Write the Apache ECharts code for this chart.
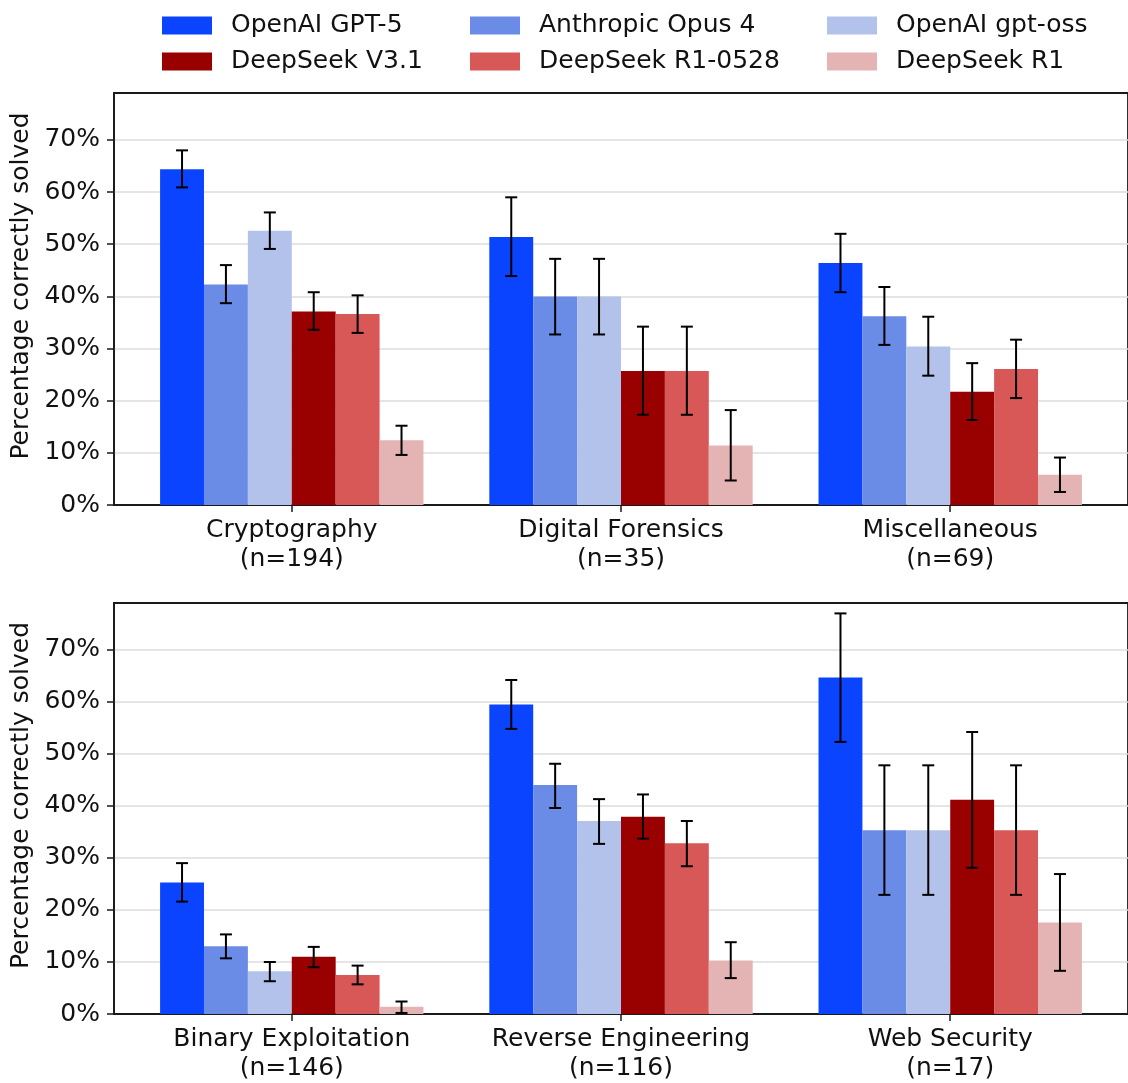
<!DOCTYPE html>
<html>
<head>
<meta charset="utf-8">
<script src="https://cdn.jsdelivr.net/npm/echarts@6/dist/echarts.min.js"></script>
<style>
  html, body { margin: 0; padding: 0; background: #fff; }
  #chart { width: 1128px; height: 1083px; }
</style>
</head>
<body>
<div id="chart"></div>
<script>
const models = ['OpenAI GPT-5', 'Anthropic Opus 4', 'OpenAI gpt-oss', 'DeepSeek V3.1', 'DeepSeek R1-0528', 'DeepSeek R1'];
const colors = ['#0a44ff', '#6a8be6', '#b3c2ea', '#990000', '#d85757', '#e4b4b4'];

const topCategories = ['Cryptography\n(n=194)', 'Digital Forensics\n(n=35)', 'Miscellaneous\n(n=69)'];
const bottomCategories = ['Binary Exploitation\n(n=146)', 'Reverse Engineering\n(n=116)', 'Web Security\n(n=17)'];
const yTicks = [0, 10, 20, 30, 40, 50, 60, 70];

// percent solved, one row per model, one column per category
const topValues = [
  [64.4, 51.4, 46.4],
  [42.3, 40.0, 36.2],
  [52.6, 40.0, 30.4],
  [37.1, 25.7, 21.7],
  [36.6, 25.7, 26.1],
  [12.4, 11.4, 5.8]
];
const topLow = [
  [60.9, 43.9, 40.8],
  [38.7, 32.7, 30.7],
  [49.1, 32.7, 24.8],
  [33.6, 17.3, 16.3],
  [33.0, 17.3, 20.5],
  [9.6, 4.7, 2.5]
];
const topHigh = [
  [68.0, 59.0, 52.0],
  [46.0, 47.2, 41.8],
  [56.1, 47.2, 36.1],
  [40.8, 34.2, 27.2],
  [40.2, 34.2, 31.7],
  [15.2, 18.2, 9.1]
];

const bottomValues = [
  [25.3, 59.5, 64.7],
  [13.0, 44.0, 35.3],
  [8.2, 37.1, 35.3],
  [11.0, 37.9, 41.2],
  [7.5, 32.8, 35.3],
  [1.4, 10.3, 17.6]
];
const bottomLow = [
  [21.6, 54.8, 52.3],
  [10.7, 39.6, 22.9],
  [6.3, 32.7, 22.9],
  [9.0, 33.7, 28.1],
  [5.7, 28.4, 22.9],
  [0.2, 6.9, 8.3]
];
const bottomHigh = [
  [29.0, 64.2, 77.0],
  [15.3, 48.1, 47.8],
  [10.0, 41.3, 47.8],
  [12.9, 42.2, 54.2],
  [9.3, 37.1, 47.8],
  [2.4, 13.8, 26.9]
];

const BAR_W = 0.8 / models.length;
const FONT = 'DejaVu Sans';
const FS = 25;
const AXIS_COLOR = '#1a1a1a';

function renderBar(m) {
  return function (params, api) {
    const x = api.value(0) + (m - (models.length - 1) / 2) * BAR_W;
    const a = api.coord([x - BAR_W / 2, api.value(1)]);
    const b = api.coord([x + BAR_W / 2, 0]);
    const lo = api.coord([x, api.value(2)]);
    const hi = api.coord([x, api.value(3)]);
    const cap = 6;
    const err = { stroke: '#000', lineWidth: 2 };
    return {
      type: 'group',
      children: [
        { type: 'rect', shape: { x: a[0], y: a[1], width: b[0] - a[0], height: b[1] - a[1] }, style: { fill: colors[m] } },
        { type: 'line', shape: { x1: lo[0], y1: lo[1], x2: hi[0], y2: hi[1] }, style: err },
        { type: 'line', shape: { x1: hi[0] - cap, y1: hi[1], x2: hi[0] + cap, y2: hi[1] }, style: err },
        { type: 'line', shape: { x1: lo[0] - cap, y1: lo[1], x2: lo[0] + cap, y2: lo[1] }, style: err }
      ]
    };
  };
}

function makeSeries(values, low, high, gridIdx) {
  return models.map((name, m) => ({
    name: name,
    type: 'custom',
    xAxisIndex: gridIdx,
    yAxisIndex: gridIdx,
    itemStyle: { color: colors[m] },
    encode: { x: 0, y: 1 },
    renderItem: renderBar(m),
    data: values[m].map((v, c) => [c, v, low[m][c], high[m][c]])
  }));
}

function makeXAxis(gridIdx, cats) {
  return {
    type: 'value',
    gridIndex: gridIdx,
    min: -0.54,
    max: 2.54,
    axisLine: { show: true, onZero: false, lineStyle: { color: AXIS_COLOR, width: 1.8 } },
    axisTick: { show: true, length: 7, customValues: [0, 1, 2], lineStyle: { color: AXIS_COLOR, width: 1.5 } },
    axisLabel: {
      customValues: [0, 1, 2],
      formatter: v => cats[Math.round(v)],
      fontFamily: FONT, fontSize: FS, color: '#111', lineHeight: 29, margin: 11
    },
    splitLine: { show: false }
  };
}

function makeYAxis(gridIdx) {
  return {
    type: 'value',
    gridIndex: gridIdx,
    min: 0,
    max: 79,
    name: 'Percentage correctly solved',
    nameLocation: 'middle',
    nameGap: 80,
    nameTextStyle: { fontFamily: FONT, fontSize: FS, color: '#111', padding: [0, 0, 0, 26] },
    axisLine: { show: true, onZero: false, lineStyle: { color: AXIS_COLOR, width: 1.8 } },
    axisTick: { show: true, length: 7, customValues: yTicks, lineStyle: { color: AXIS_COLOR, width: 1.5 } },
    axisLabel: {
      customValues: yTicks,
      formatter: v => v + '%',
      fontFamily: FONT, fontSize: FS, color: '#111', margin: 14
    },
    splitLine: { show: true, lineStyle: { color: '#dcdcdc', width: 1.5 } }
  };
}

const legendLeft = [162, 470, 827];
const legendTop = [13, 49];
const legends = models.map((name, m) => ({
  data: [name],
  left: legendLeft[m % 3],
  top: legendTop[Math.floor(m / 3)],
  padding: 0,
  icon: 'rect',
  itemWidth: 50,
  itemHeight: 18,
  selectedMode: false,
  textStyle: { fontFamily: FONT, fontSize: FS, color: '#111', padding: [0, 0, 0, 14] }
}));

const chart = echarts.init(document.getElementById('chart'), null, { renderer: 'canvas' });
chart.setOption({
  backgroundColor: '#fff',
  animation: false,
  legend: legends,
  grid: [
    { left: 114, top: 93, width: 1019, height: 412, show: true, borderColor: AXIS_COLOR, borderWidth: 1.8 },
    { left: 114, top: 603, width: 1019, height: 413, show: true, borderColor: AXIS_COLOR, borderWidth: 1.8 }
  ],
  xAxis: [makeXAxis(0, topCategories), makeXAxis(1, bottomCategories)],
  yAxis: [makeYAxis(0), makeYAxis(1)],
  series: makeSeries(topValues, topLow, topHigh, 0).concat(makeSeries(bottomValues, bottomLow, bottomHigh, 1))
});
</script>
</body>
</html>
